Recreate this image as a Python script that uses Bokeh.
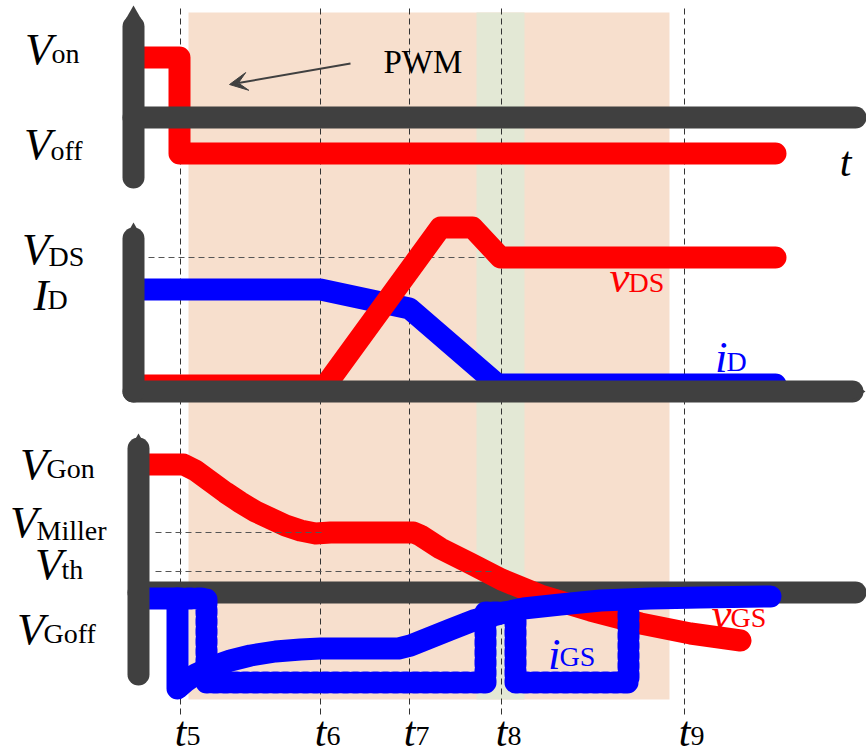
from bokeh.plotting import figure
from bokeh.models import Range1d, Arrow, VeeHead, ColumnDataSource
from bokeh.core.properties import value
from bokeh.embed import file_html
from bokeh.resources import INLINE

# ---------------- data (schematic units = pixels of the drawing) ----------------
T_MARKS = [180, 320, 409, 501, 684]
T_LABELS = ["5", "6", "7", "8", "9"]

# panel 1 : PWM command
pwm_x = [143, 179, 179, 775]
pwm_y = [57, 57, 153, 153]

# panel 2 : drain-source voltage and drain current
vds_x = [143, 325, 440, 472, 500, 775]
vds_y = [385, 385, 227, 227, 257, 257]
id_x = [143, 320, 409, 497, 775]
id_y = [289, 289, 308, 384, 384]

# panel 3 : gate-source voltage
vgs_x = [148, 183, 195, 210, 225, 240, 255, 270, 285, 300, 315, 330, 413, 420, 440, 470,
         501, 540, 590, 640, 690, 740]
vgs_y = [464, 464, 470, 481, 492, 502, 511, 518, 525, 530, 533, 532, 532, 535, 548, 563,
         579, 595, 610, 623, 633, 640]

# panel 3 : gate current (curve and pulse outline)
igs_a_x = [148, 177, 177, 185, 195, 210, 230, 250, 275, 300, 320, 398, 410, 430, 450, 473,
           500, 523, 560, 600, 650, 700, 770]
igs_a_y = [598, 598, 688, 681, 674, 667, 660, 655, 651, 649, 648, 648, 645, 637, 629, 620,
           613, 608, 604, 600, 598, 597, 596]
igs_b_x = [177, 206, 206, 485, 485, 515, 515, 628, 628]
igs_b_y = [598, 598, 682, 682, 612, 612, 682, 682, 600]

# reference levels (horizontal dashed)
ref_y = [257, 532, 571]
ref_x0 = [148, 155, 155]
ref_x1 = [500, 325, 495]

# shaded intervals
shade_left, shade_right = 188, 669
green_left, green_right = 476, 524
shade_top, shade_bottom = 12, 699

# axes
axv_x = [133, 133, 138]
axv_top = [26, 238, 448]
axv_bot = [177, 391, 674]
axv_tip = [5, 222, 433]
axh_y = [117, 391, 592]
axh_x0 = [133, 133, 138]
axh_x1 = [855, 852, 855]

AX_COL = "#404040"
RED = "#ff0000"
BLUE = "#0000ff"
SERIF = "Liberation Serif"
TXT_DY = -14   # baseline correction

p = figure(width=866, height=754, x_range=Range1d(0, 866), y_range=Range1d(754, 0),
           output_backend="svg", toolbar_location=None, min_border=0,
           x_axis_location=None, y_axis_location=None)
p.grid.visible = False
p.outline_line_color = None
p.background_fill_color = "white"

# shading
p.quad(left=[shade_left], right=[shade_right], top=[shade_top], bottom=[shade_bottom],
       fill_color="#f7dfcd", line_color=None)
p.quad(left=[green_left], right=[green_right], top=[shade_top], bottom=[shade_bottom],
       fill_color="#e3e8d5", line_color=None)

# dashed time marks
p.multi_line(xs=[[x, x] for x in T_MARKS], ys=[[8, 716] for _ in T_MARKS],
             line_color="#333333", line_width=1, line_dash="6 4")

def vaxis(i):
    p.line([axv_x[i], axv_x[i]], [axv_top[i], axv_bot[i]], line_color=AX_COL,
           line_width=22, line_cap="round")
    x = axv_x[i]
    t = axv_tip[i]
    p.patch([x, x - 8, x + 8], [t, t + 14, t + 14], fill_color=AX_COL, line_color=None)

def haxis(i):
    p.line([axh_x0[i], axh_x1[i]], [axh_y[i], axh_y[i]], line_color=AX_COL,
           line_width=22, line_cap="round")

# panel 1
p.line(pwm_x, pwm_y, line_color=RED, line_width=22, line_join="round", line_cap="round")
haxis(0)
vaxis(0)

# panel 2
p.line([ref_x0[0], ref_x1[0]], [ref_y[0], ref_y[0]], line_color="#555555", line_width=1, line_dash="6 4")
p.line(id_x, id_y, line_color=BLUE, line_width=22, line_join="round", line_cap="round")
p.line(vds_x, vds_y, line_color=RED, line_width=22, line_join="round", line_cap="round")
haxis(1)
vaxis(1)
p.patch([865, 851, 851], [axh_y[1], axh_y[1] - 9, axh_y[1] + 9], fill_color=AX_COL, line_color=None)

# panel 3
haxis(2)
p.line(vgs_x, vgs_y, line_color=RED, line_width=22, line_join="round", line_cap="round")
for i in (1, 2):
    p.line([ref_x0[i], ref_x1[i]], [ref_y[i], ref_y[i]], line_color="#555555", line_width=1, line_dash="6 4")
p.line(igs_b_x, igs_b_y, line_color=BLUE, line_width=22, line_join="round",
       line_cap="round", line_dash="4 6")
p.line(igs_a_x, igs_a_y, line_color=BLUE, line_width=22, line_join="round", line_cap="round")
vaxis(2)

# PWM arrow
p.add_layout(Arrow(end=VeeHead(size=18, fill_color=AX_COL, fill_alpha=1.0,
                               line_color=AX_COL, line_width=1),
                   x_start=350, y_start=63, x_end=229, y_end=84,
                   line_color=AX_COL, line_width=2))

# ---------------- texts ----------------
main_txt = ["V", "V", "V", "I", "V", "V", "V", "V", "v", "i", "v", "i"]
sub_txt = ["on", "off", "DS", "D", "Gon", "Miller", "th", "Goff", "DS", "D", "GS", "GS"]
lab_x = [52, 51, 49, 48, 47, 37, 62, 44, 629, 727, 731, 560]
lab_y = [62, 157, 262, 308, 477, 535, 577, 642, 290, 370, 627, 667]
sub_dy = [5, 7, 8, 5, 5, 9, 6, 5, 6, 5, 4, 3]
lab_col = ["black"] * 8 + [RED, BLUE, RED, BLUE]

src_main = ColumnDataSource(dict(x=lab_x, y=[y + TXT_DY for y in lab_y], text=main_txt, c=lab_col))
src_sub = ColumnDataSource(dict(x=[x - 1 for x in lab_x],
                                y=[y + d + TXT_DY for y, d in zip(lab_y, sub_dy)],
                                text=sub_txt, c=lab_col))
p.text(x="x", y="y", text="text", source=src_main, text_color="c", text_font=value(SERIF),
       text_font_style="italic", text_font_size="45px", text_align="right", text_baseline="alphabetic")
p.text(x="x", y="y", text="text", source=src_sub, text_color="c", text_font=value(SERIF),
       text_font_size="28px", text_align="left", text_baseline="alphabetic")

# time labels
src_t = ColumnDataSource(dict(x=[x + 6 for x in T_MARKS], y=[745 + TXT_DY] * 5, text=["t"] * 5))
src_ts = ColumnDataSource(dict(x=[x + 6 for x in T_MARKS], y=[749 + TXT_DY] * 5, text=T_LABELS))
p.text(x="x", y="y", text="text", source=src_t, text_color="black", text_font=value(SERIF),
       text_font_style="italic", text_font_size="42px", text_align="right", text_baseline="alphabetic")
p.text(x="x", y="y", text="text", source=src_ts, text_color="black", text_font=value(SERIF),
       text_font_size="28px", text_align="left", text_baseline="alphabetic")

p.text(x=[851], y=[175 + TXT_DY], text=["t"], text_color="black", text_font=value(SERIF),
       text_font_style="italic", text_font_size="42px", text_align="right", text_baseline="alphabetic")
p.text(x=[383], y=[75 + TXT_DY], text=["PWM"], text_color="black", text_font=value(SERIF),
       text_font_size="33px", text_align="left", text_baseline="alphabetic")

open("out.html", "w").write(file_html(p, INLINE))
